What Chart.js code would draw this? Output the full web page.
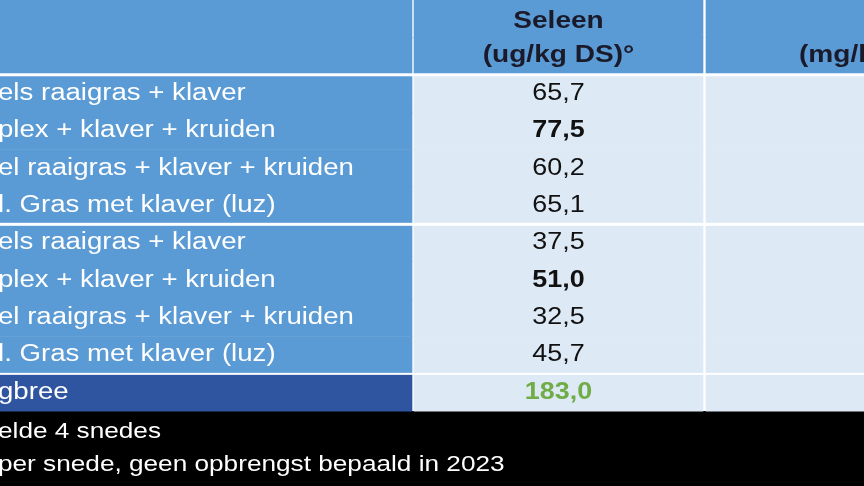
<!DOCTYPE html><html><head><meta charset="utf-8">
<script src="https://cdn.jsdelivr.net/npm/chart.js@4"></script>
<style>html,body{margin:0;padding:0;background:#fff}#w{width:864px;height:486px}</style></head><body>
<div id="w"><canvas id="c"></canvas></div>
<script>
const rows = ['h1','h2','r1','r2','r3','r4','r5','r6','r7','r8','r9','f1','f2'];
const headerSe = ['Seleen','(ug/kg DS)°'];
const headerK = ['K','(mg/kg DS)'];
const labels = ['els raaigras + klaver','plex + klaver + kruiden','el raaigras + klaver + kruiden','l. Gras met klaver (luz)',
                'els raaigras + klaver','plex + klaver + kruiden','el raaigras + klaver + kruiden','l. Gras met klaver (luz)','gbree'];
const seleen = ['65,7','77,5','60,2','65,1','37,5','51,0','32,5','45,7','183,0'];
const boldRows = [1,5];
const footnotes = ['elde 4 snedes','per snede, geen opbrengst bepaald in 2023'];

const blue='#5b9bd5', light='#dde9f5', dark='#2f54a0';
const col1 = rows.map((r,i)=> i<11 ? [0,412] : null);
const col2 = rows.map((r,i)=> i<11 ? [414,703] : null);
const col3 = rows.map((r,i)=> i<11 ? [706,864] : null);
const foot = rows.map((r,i)=> i>=11 ? [0,864] : null);
const c1c = rows.map((r,i)=> i<2?blue : i===10?dark : blue);
const c2c = rows.map((r,i)=> i<2?blue : light);

function txt(ctx,t,x,y,sx){ctx.save();ctx.translate(x,y);ctx.scale(sx,1);ctx.fillText(t,0,0);ctx.restore();}

const textPlugin = {id:'txt', afterDatasetsDraw(ch){
  const ctx=ch.ctx, y=ch.scales.y, x=ch.scales.x;
  const cy=i=>y.getPixelForValue(i);
  ctx.save();
  ctx.fillStyle='#fff';
  [[1.5,3],[5.5,3],[9.5,2]].forEach(([v,h])=>{const p=(cy(Math.floor(v))+cy(Math.ceil(v)))/2; ctx.fillRect(0,p-h/2,864,h);});
  ctx.textBaseline='middle';
  ctx.font='bold 23px "Liberation Sans", Arial'; ctx.fillStyle='#1a1a2a'; ctx.textAlign='center';
  const mid2=(x.getPixelForValue(414)+x.getPixelForValue(703))/2;
  headerSe.forEach((t,i)=>txt(ctx,t,mid2,cy(i)+(i?0:3),1.22));
  headerK.forEach((t,i)=>txt(ctx,t,x.getPixelForValue(873),cy(i)+(i?0:3),1.22));
  labels.forEach((t,i)=>{
    ctx.textAlign='left'; ctx.font='23px "Liberation Sans", Arial'; ctx.fillStyle='#fff';
    txt(ctx,t,x.getPixelForValue(0)-2,cy(i+2),1.2);
    ctx.textAlign='center';
    ctx.font=(boldRows.includes(i)||i===8?'bold ':'')+'23px "Liberation Sans", Arial';
    ctx.fillStyle=i===8?'#70ad47':'#111';
    txt(ctx,seleen[i],mid2,cy(i+2),1.17);
  });
  ctx.textAlign='left'; ctx.fillStyle='#fff'; ctx.font='22px "Liberation Sans", Arial';
  footnotes.forEach((t,i)=>txt(ctx,t,x.getPixelForValue(0)-2,cy(11+i)+(i?-2:2),1.19));
  ctx.restore();
}};

new Chart(document.getElementById('c'),{
  type:'bar',
  data:{labels:rows,datasets:[
    {data:col1,backgroundColor:c1c},
    {data:col2,backgroundColor:c2c},
    {data:col3,backgroundColor:c2c},
    {data:foot,backgroundColor:'#000'}
  ]},
  options:{indexAxis:'y',responsive:true,maintainAspectRatio:false,animation:false,
    datasets:{bar:{categoryPercentage:1,barPercentage:1,borderWidth:0,grouped:false}},
    layout:{padding:0},
    plugins:{legend:{display:false},tooltip:{enabled:false}},
    scales:{x:{type:'linear',min:0,max:864,display:false},
            y:{display:false,offset:true}}},
  plugins:[textPlugin]
});
</script></body></html>
